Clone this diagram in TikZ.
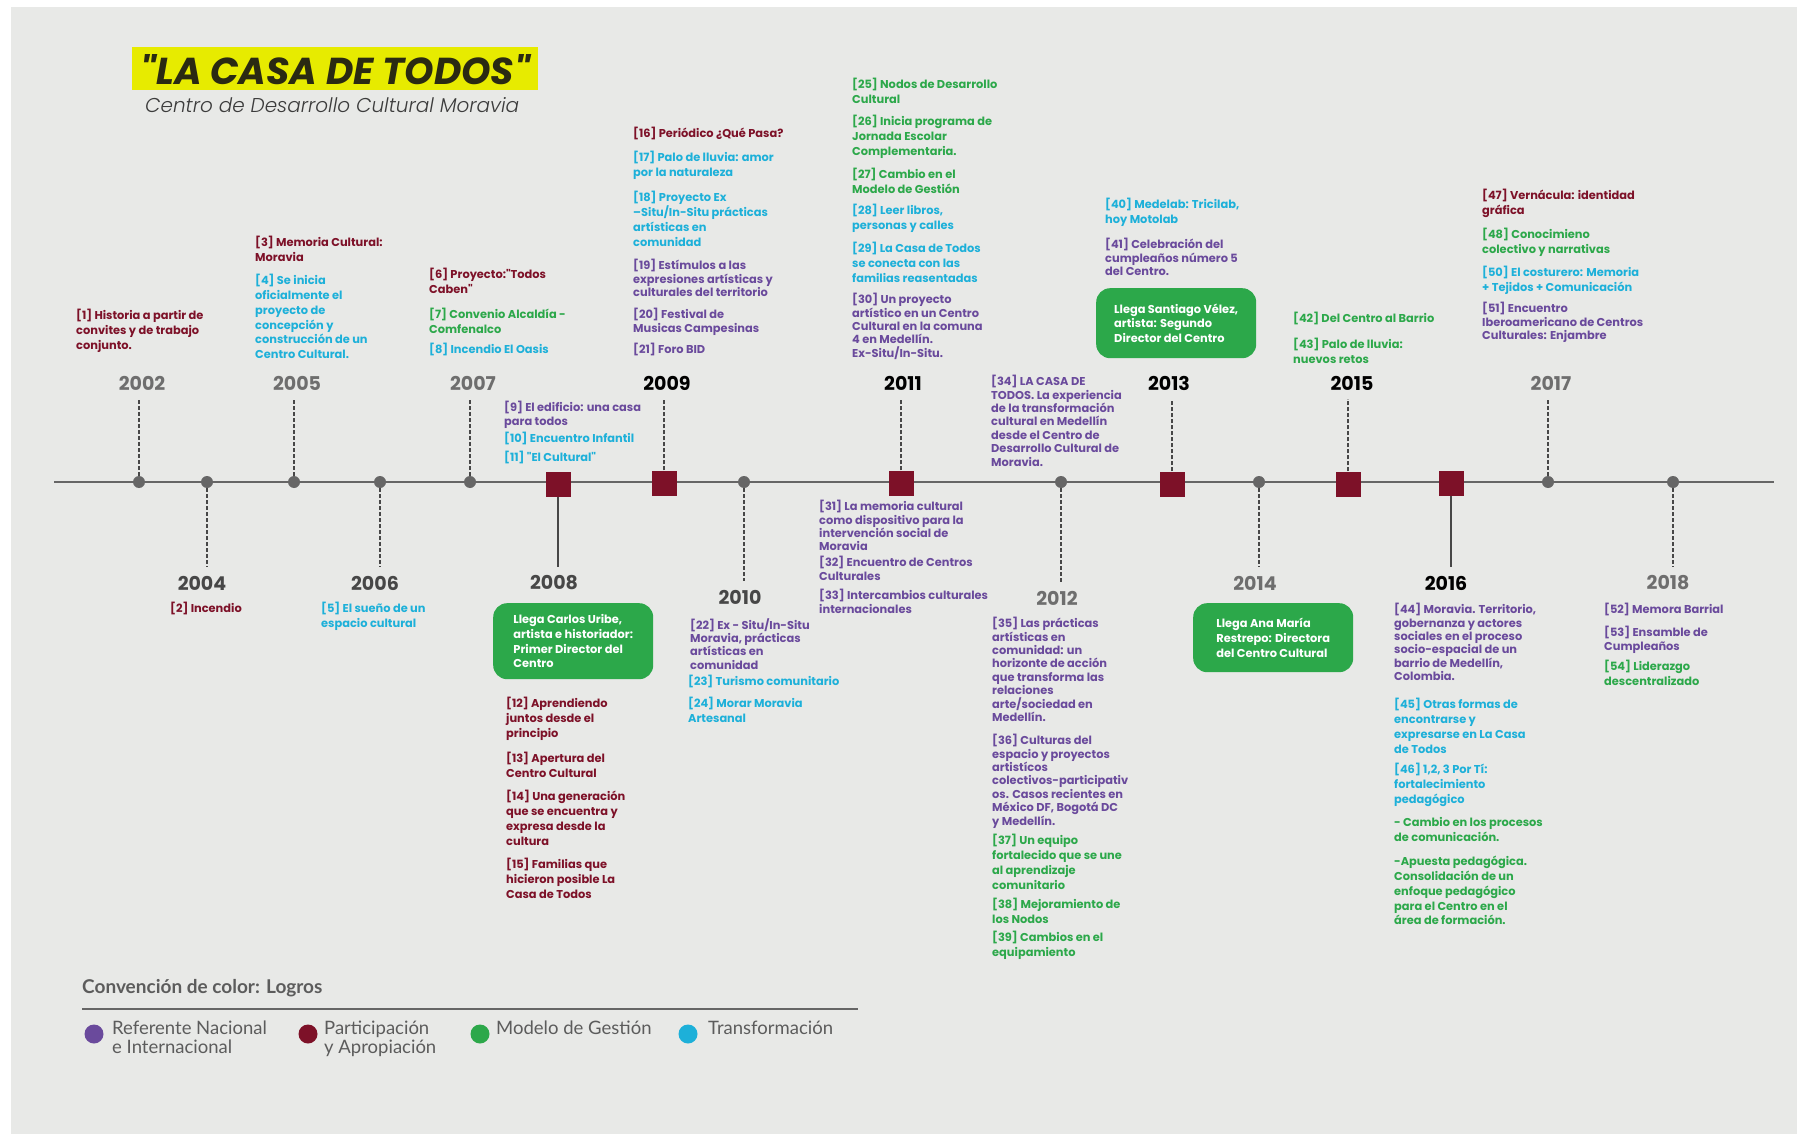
\documentclass[tikz,border=0pt]{standalone}
\usepackage{fontspec}
\setmainfont{Poppins}
\newfontfamily\popsemi{Poppins SemiBold}
\newfontfamily\popbold{Poppins Bold}
\newfontfamily\popboldit{Poppins Bold Italic}
\newfontfamily\poplightit{Poppins Light Italic}
\newfontfamily\lato{Lato}
\usetikzlibrary{positioning}

\definecolor{fondo}{HTML}{E8E9E7}
\definecolor{cPart}{HTML}{7D1128}
\definecolor{cTrans}{HTML}{1DB0D9}
\definecolor{cGest}{HTML}{2CA84A}
\definecolor{cRef}{HTML}{6A4A9C}
\definecolor{eje}{HTML}{666666}
\definecolor{amarillo}{HTML}{E7EB00}
\definecolor{tituloTxt}{HTML}{2A2A12}
\definecolor{subGris}{HTML}{3C3C3C}
\definecolor{anioGris}{HTML}{6E6E6E}
\definecolor{anioOsc}{HTML}{474747}
\definecolor{leyGris}{HTML}{5C5C5C}

\tikzset{
  % entries of the timeline, one style per colour of the legend
  entrada/.style={anchor=north west, inner sep=0pt, align=left,
    font=\popbold\fontsize{11.4}{14.8}\selectfont},
  part/.style={entrada, text=cPart},
  trans/.style={entrada, text=cTrans},
  gest/.style={entrada, text=cGest},
  refe/.style={entrada, text=cRef, font=\popbold\fontsize{11.4}{13.4}\selectfont},
  anio/.style={font=\popbold\fontsize{19}{20}\selectfont, inner xsep=0pt, inner ysep=9pt},
  punto/.style={circle, fill=eje, minimum size=12pt, inner sep=0pt},
  cuadro/.style={rectangle, fill=cPart, minimum size=25pt, inner sep=0pt},
  hito/.style={anchor=north west, rounded corners=14pt, fill=cGest, text=white,
    align=left, minimum width=160pt, inner xsep=0pt,
    font=\popbold\fontsize{11.4}{14.8}\selectfont},
  guia/.style={draw=anioOsc, line width=1.2pt, dash pattern=on 4pt off 2pt},
  guiaplena/.style={draw=anioOsc, line width=1.2pt},
  leyenda/.style={anchor=north west, inner sep=0pt, align=left, text=leyGris,
    font=\lato\fontsize{18.5}{18.5}\selectfont},
  bola/.style={circle, minimum width=17pt, minimum height=19pt, inner sep=0pt}
}

\begin{document}
\begin{tikzpicture}[x=1pt, y=-1pt]

\useasboundingbox (0,0) rectangle (1800,1134);
\fill[white] (0,0) rectangle (1800,1134);
\fill[fondo] (11,7) rectangle (1797,1134);

% title
\node (titulo) [fill=amarillo, anchor=south west, minimum width=406pt,
  inner xsep=0pt, inner ysep=5pt, text height=33pt, text depth=0pt,
  text=tituloTxt, font=\popboldit\fontsize{37.5}{37.5}\selectfont] at (132,90)
  {"LA CASA DE TODOS"};
\node (subtitulo) [anchor=west, inner sep=0pt, text=subGris,
  font=\poplightit\fontsize{20}{20}\selectfont] at (145,105)
  {Centro de Desarrollo Cultural Moravia};

% axis
\coordinate (ejeA) at (54,482);
\coordinate (ejeB) at (1774,482);
\draw[eje, line width=2.2pt] (ejeA) -- (ejeB);

% markers on the axis
\node (m2002) [punto] at (139,482) {};
\node (m2004) [punto] at (207,482) {};
\node (m2005) [punto] at (294,482) {};
\node (m2006) [punto] at (380,482) {};
\node (m2007) [punto] at (470,482) {};
\node (m2008) [cuadro] at (558,484) {};
\node (m2009) [cuadro] at (664,483) {};
\node (m2010) [punto] at (744,482) {};
\node (m2011) [cuadro] at (901,483) {};
\node (m2012) [punto] at (1061,482) {};
\node (m2013) [cuadro] at (1172,484) {};
\node (m2014) [punto] at (1259,482) {};
\node (m2015) [cuadro] at (1348,484) {};
\node (m2016) [cuadro] at (1451,483) {};
\node (m2017) [punto] at (1548,482) {};
\node (m2018) [punto] at (1673,482) {};

% years
\node (y2002) [anio, text=anioGris] at (142,383) {2002};
\node (y2005) [anio, text=anioGris] at (297,383) {2005};
\node (y2007) [anio, text=anioGris] at (473,383) {2007};
\node (y2009) [anio, text=black] at (667,383) {2009};
\node (y2011) [anio, text=black] at (903,383) {2011};
\node (y2013) [anio, text=black] at (1169,383) {2013};
\node (y2015) [anio, text=black] at (1352,383) {2015};
\node (y2017) [anio, text=anioGris] at (1551,383) {2017};
\node (y2004) [anio, text=anioOsc] at (202,583) {2004};
\node (y2006) [anio, text=anioOsc] at (375,583) {2006};
\node (y2008) [anio, text=anioOsc] at (554,583) {2008};
\node (y2010) [anio, text=anioOsc] at (740,597) {2010};
\node (y2012) [anio, text=anioGris] at (1057,598) {2012};
\node (y2014) [anio, text=anioGris] at (1255,583) {2014};
\node (y2016) [anio, text=black] at (1446,583) {2016};
\node (y2018) [anio, text=anioGris] at (1668,583) {2018};

\draw[guia] (m2002.north) -- (m2002 |- y2002.south);
\draw[guia] (m2005.north) -- (m2005 |- y2005.south);
\draw[guia] (m2007.north) -- (m2007 |- y2007.south);
\draw[guia] (m2009.north) -- (m2009 |- y2009.south);
\draw[guia] (m2011.north) -- (m2011 |- y2011.south);
\draw[guia] (m2013.north) -- (m2013 |- y2013.south);
\draw[guia] (m2015.north) -- (m2015 |- y2015.south);
\draw[guia] (m2017.north) -- (m2017 |- y2017.south);
\draw[guia] (m2004.south) -- (m2004 |- y2004.north);
\draw[guia] (m2006.south) -- (m2006 |- y2006.north);
\draw[guiaplena] (m2008.south) -- (m2008 |- y2008.north);
\draw[guia] (m2010.south) -- (m2010 |- y2010.north);
\draw[guia] (m2012.south) -- (m2012 |- y2012.north);
\draw[guia] (m2014.south) -- (m2014 |- y2014.north);
\draw[guiaplena] (m2016.south) -- (m2016 |- y2016.north);
\draw[guia] (m2018.south) -- (m2018 |- y2018.north);

% entries above the axis
\node (e1) [part] at (76,309) {[1] Historia a partir de\\ convites y de trabajo\\ conjunto.};
\node (e3) [part] at (255,236) {[3] Memoria Cultural:\\ Moravia};
\node (e4) [trans] at (255,274) {[4] Se inicia\\ oficialmente el\\ proyecto de\\ concepción y\\ construcción de un\\ Centro Cultural.};
\node (e6) [part] at (429,268) {[6] Proyecto:"Todos\\ Caben"};
\node (e7) [gest] at (429,308) {[7] Convenio Alcaldía -\\ Comfenalco};
\node (e8) [trans] at (429,343) {[8] Incendio El Oasis};
\node (e9) [refe] at (504,401) {[9] El edificio: una casa\\ para todos};
\node (e10) [trans] at (504,432) {[10] Encuentro Infantil};
\node (e11) [trans] at (504,451) {[11] "El Cultural"};
\node (e16) [part] at (633,127) {[16] Periódico ¿Qué Pasa?};
\node (e17) [trans] at (633,151) {[17] Palo de lluvia: amor\\ por la naturaleza};
\node (e18) [trans] at (633,191) {[18] Proyecto Ex\\ –Situ/In-Situ prácticas\\ artísticas en\\ comunidad};
\node (e19) [refe] at (633,259) {[19] Estímulos a las\\ expresiones artísticas y\\ culturales del territorio};
\node (e20) [refe] at (633,308) {[20] Festival de\\ Musicas Campesinas};
\node (e21) [refe] at (633,343) {[21] Foro BID};
\node (e25) [gest] at (852,78) {[25] Nodos de Desarrollo\\ Cultural};
\node (e26) [gest] at (852,115) {[26] Inicia programa de\\ Jornada Escolar\\ Complementaria.};
\node (e27) [gest] at (852,168) {[27] Cambio en el\\ Modelo de Gestión};
\node (e28) [trans] at (852,204) {[28] Leer libros,\\ personas y calles};
\node (e29) [trans] at (852,242) {[29] La Casa de Todos\\ se conecta con las\\ familias reasentadas};
\node (e30) [refe] at (852,293) {[30] Un proyecto\\ artístico en un Centro\\ Cultural en la comuna\\ 4 en Medellín.\\ Ex-Situ/In-Situ.};
\node (e34) [refe] at (991,375) {[34] LA CASA DE\\ TODOS. La experiencia\\ de la transformación\\ cultural en Medellín\\ desde el Centro de\\ Desarrollo Cultural de\\ Moravia.};
\node (e40) [trans] at (1105,198) {[40] Medelab: Tricilab,\\ hoy Motolab};
\node (e41) [refe] at (1105,238) {[41] Celebración del\\ cumpleaños número 5\\ del Centro.};
\node (hito2013) [hito, minimum height=70pt] at (1096,288) {Llega Santiago Vélez,\\ artista: Segundo\\ Director del Centro};
\node (e42) [gest] at (1293,312) {[42] Del Centro al Barrio};
\node (e43) [gest] at (1293,338) {[43] Palo de lluvia:\\ nuevos retos};
\node (e47) [part] at (1482,189) {[47] Vernácula: identidad\\ gráfica};
\node (e48) [gest] at (1482,228) {[48] Conocimieno\\ colectivo y narrativas};
\node (e50) [trans] at (1482,266) {[50] El costurero: Memoria\\ + Tejidos + Comunicación};
\node (e51) [refe] at (1482,302) {[51] Encuentro\\ Iberoamericano de Centros\\ Culturales: Enjambre};

% entries below the axis
\node (e2) [part] at (170,602) {[2] Incendio};
\node (e5) [trans] at (321,602) {[5] El sueño de un\\ espacio cultural};
\node (hito2008) [hito, minimum height=76pt] at (493,603) {Llega Carlos Uribe,\\ artista e historiador:\\ Primer Director del\\ Centro};
\node (e12) [part] at (506,697) {[12] Aprendiendo\\ juntos desde el\\ principio};
\node (e13) [part] at (506,752) {[13] Apertura del\\ Centro Cultural};
\node (e14) [part] at (506,790) {[14] Una generación\\ que se encuentra y\\ expresa desde la\\ cultura};
\node (e15) [part] at (506,858) {[15] Familias que\\ hicieron posible La\\ Casa de Todos};
\node (e22) [refe] at (690,618) {[22] Ex - Situ/In-Situ\\ Moravia, prácticas\\ artísticas en\\ comunidad};
\node (e23) [trans] at (688,675) {[23] Turismo comunitario};
\node (e24) [trans] at (688,697) {[24] Morar Moravia\\ Artesanal};
\node (e31) [refe] at (819,500) {[31] La memoria cultural\\ como dispositivo para la\\ intervención social de\\ Moravia};
\node (e32) [refe] at (819,556) {[32] Encuentro de Centros\\ Culturales};
\node (e33) [refe] at (819,589) {[33] Intercambios culturales\\ internacionales};
\node (e35) [refe] at (992,617) {[35] Las prácticas\\ artísticas en\\ comunidad: un\\ horizonte de acción\\ que transforma las\\ relaciones\\ arte/sociedad en\\ Medellín.};
\node (e36) [refe] at (992,734) {[36] Culturas del\\ espacio y proyectos\\ artistícos\\ colectivos-participativ\\ os. Casos recientes en\\ México DF, Bogotá DC\\ y Medellín.};
\node (e37) [gest] at (992,834) {[37] Un equipo\\ fortalecido que se une\\ al aprendizaje\\ comunitario};
\node (e38) [gest] at (992,898) {[38] Mejoramiento de\\ los Nodos};
\node (e39) [gest] at (992,931) {[39] Cambios en el\\ equipamiento};
\node (hito2014) [hito, minimum height=69pt] at (1193,603) {Llega Ana María\\ Restrepo: Directora\\ del Centro Cultural};
\node (e44) [refe] at (1394,603) {[44] Moravia. Territorio,\\ gobernanza y actores\\ sociales en el proceso\\ socio-espacial de un\\ barrio de Medellín,\\ Colombia.};
\node (e45) [trans] at (1394,698) {[45] Otras formas de\\ encontrarse y\\ expresarse en La Casa\\ de Todos};
\node (e46) [trans] at (1394,763) {[46] 1,2, 3 Por Tí:\\ fortalecimiento\\ pedagógico};
\node (cambio) [gest] at (1394,817) {- Cambio en los procesos\\ de comunicación.};
\node (apuesta) [gest] at (1394,856) {-Apuesta pedagógica.\\ Consolidación de un\\ enfoque pedagógico\\ para el Centro en el\\ área de formación.};
\node (e52) [refe] at (1604,603) {[52] Memora Barrial};
\node (e53) [refe] at (1604,626) {[53] Ensamble de\\ Cumpleaños};
\node (e54) [gest] at (1604,660) {[54] Liderazgo\\ descentralizado};

% legend
\node (leytit) [anchor=west, inner sep=0pt, text=leyGris,
  font=\lato\bfseries\fontsize{19}{19}\selectfont] at (82,988) {Convención de color: Logros};
\coordinate (leyA) at (82,1009);
\coordinate (leyB) at (858,1009);
\draw[eje, line width=1.8pt] (leyA) -- (leyB);
\node (b1) [bola, fill=cRef] at (94,1034) {};
\node (l1) [leyenda] at (112,1021) {Referente Nacional\\ e Internacional};
\node (b2) [bola, fill=cPart] at (308,1034) {};
\node (l2) [leyenda] at (324,1021) {Participación\\ y Apropiación};
\node (b3) [bola, fill=cGest] at (480,1034) {};
\node (l3) [leyenda] at (496,1021) {Modelo de Gestión};
\node (b4) [bola, fill=cTrans] at (688,1034) {};
\node (l4) [leyenda] at (708,1021) {Transformación};

\end{tikzpicture}
\end{document}
